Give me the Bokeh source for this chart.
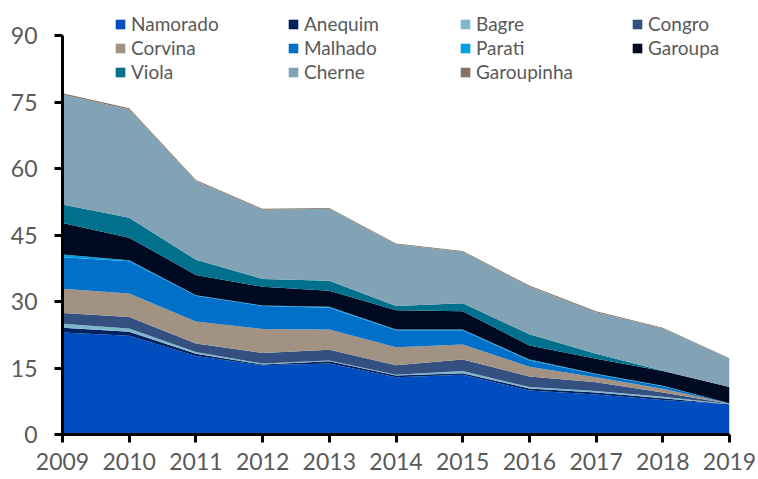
from bokeh.plotting import figure
from bokeh.models import ColumnDataSource, FixedTicker, Legend, LegendItem, Range1d
from bokeh.embed import file_html
from bokeh.resources import INLINE

years = [2009, 2010, 2011, 2012, 2013, 2014, 2015, 2016, 2017, 2018, 2019]

namorado   = [23.0, 22.3, 17.7, 15.6, 16.0, 12.9, 13.5, 9.9, 9.0, 7.8, 6.8]
anequim    = [1.1, 0.9, 0.5, 0.2, 0.5, 0.4, 0.3, 0.5, 0.5, 0.4, 0.05]
bagre      = [0.9, 0.7, 0.4, 0.2, 0.2, 0.2, 0.5, 0.3, 0.3, 0.3, 0.05]
congro     = [2.4, 2.6, 1.9, 2.4, 2.4, 2.1, 2.6, 2.4, 2.0, 1.0, 0.05]
corvina    = [5.5, 5.3, 5.0, 5.4, 4.6, 4.1, 3.4, 2.2, 1.1, 0.8, 0.05]
malhado    = [7.1, 7.3, 5.8, 5.2, 4.9, 3.8, 3.2, 1.4, 0.7, 0.6, 0.05]
parati     = [0.6, 0.2, 0.1, 0.1, 0.2, 0.2, 0.2, 0.2, 0.1, 0.1, 0.0]
garoupa    = [7.1, 5.1, 4.6, 4.2, 3.6, 4.3, 4.1, 3.2, 3.4, 3.3, 3.65]
viola      = [4.2, 4.5, 3.4, 1.8, 2.3, 1.0, 1.8, 2.5, 1.1, 0.1, 0.0]
cherne     = [24.8, 24.4, 17.8, 15.6, 16.2, 13.9, 11.6, 10.8, 9.4, 9.5, 6.4]
garoupinha = [0.3, 0.3, 0.2, 0.2, 0.2, 0.2, 0.2, 0.2, 0.2, 0.2, 0.1]

species = ["Namorado", "Anequim", "Bagre", "Congro", "Corvina", "Malhado",
           "Parati", "Garoupa", "Viola", "Cherne", "Garoupinha"]
series = [namorado, anequim, bagre, congro, corvina, malhado,
          parati, garoupa, viola, cherne, garoupinha]
colors = ["#004DC0", "#002060", "#7FB8CC", "#335080", "#A19283", "#0070C8",
          "#009FDF", "#000B23", "#00708C", "#82A2B6", "#847262"]

y_ticks = [0, 15, 30, 45, 60, 75, 90]

data = {"year": years}
for name, vals in zip(species, series):
    data[name] = vals
source = ColumnDataSource(data)

FONT = "Lato"
GRAY = "#595959"

W, H = 758, 479
frame_left, frame_right = 62, 729
frame_top, axis_top, frame_bottom = 2, 35, 434
# extend the range above the top tick so the legend sits inside the frame
y_end = y_ticks[-1] * (frame_bottom - frame_top) / (frame_bottom - axis_top)

p = figure(width=W, height=H, x_range=Range1d(years[0], years[-1]),
           y_range=Range1d(y_ticks[0], y_end),
           output_backend="svg", toolbar_location=None,
           min_border_left=frame_left, min_border_right=W - frame_right,
           min_border_top=frame_top, min_border_bottom=H - frame_bottom)
p.outline_line_color = None
p.grid.visible = False
p.background_fill_color = "white"

renderers = p.varea_stack(stackers=species, x="year", color=colors, source=source)

for ax in (p.xaxis[0], p.yaxis[0]):
    ax.axis_line_color = "black"
    ax.axis_line_width = 3
    ax.major_tick_line_color = "black"
    ax.major_tick_line_width = 3
    ax.major_tick_in = 0
    ax.major_tick_out = 8
    ax.minor_tick_line_color = None
    ax.major_label_text_font = FONT
    ax.major_label_text_font_size = "23px"
    ax.major_label_text_color = GRAY

p.xaxis.ticker = FixedTicker(ticks=years)
p.yaxis.ticker = FixedTicker(ticks=y_ticks)
p.yaxis.bounds = (y_ticks[0], y_ticks[-1])
p.xaxis.major_label_standoff = 10
p.yaxis.major_label_standoff = 17

columns = [[0, 4, 8], [1, 5, 9], [2, 6, 10], [3, 7]]
col_x = [52, 225, 397, 569]
row_h, row_gap = 23, 1
legend_top = 12
for col, x in zip(columns, col_x):
    items = [LegendItem(label=species[i], renderers=[renderers[i]]) for i in col]
    h = len(col) * row_h + (len(col) - 1) * row_gap
    leg = Legend(items=items, location=(x, frame_bottom - legend_top - h),
                 orientation="vertical",
                 padding=0, margin=0, spacing=row_gap, label_height=row_h,
                 glyph_height=12, glyph_width=12, label_standoff=5,
                 label_text_font=FONT, label_text_font_size="19px",
                 label_text_color=GRAY, border_line_color=None,
                 background_fill_alpha=0)
    p.add_layout(leg)

open("out.html", "w").write(file_html(p, INLINE))
